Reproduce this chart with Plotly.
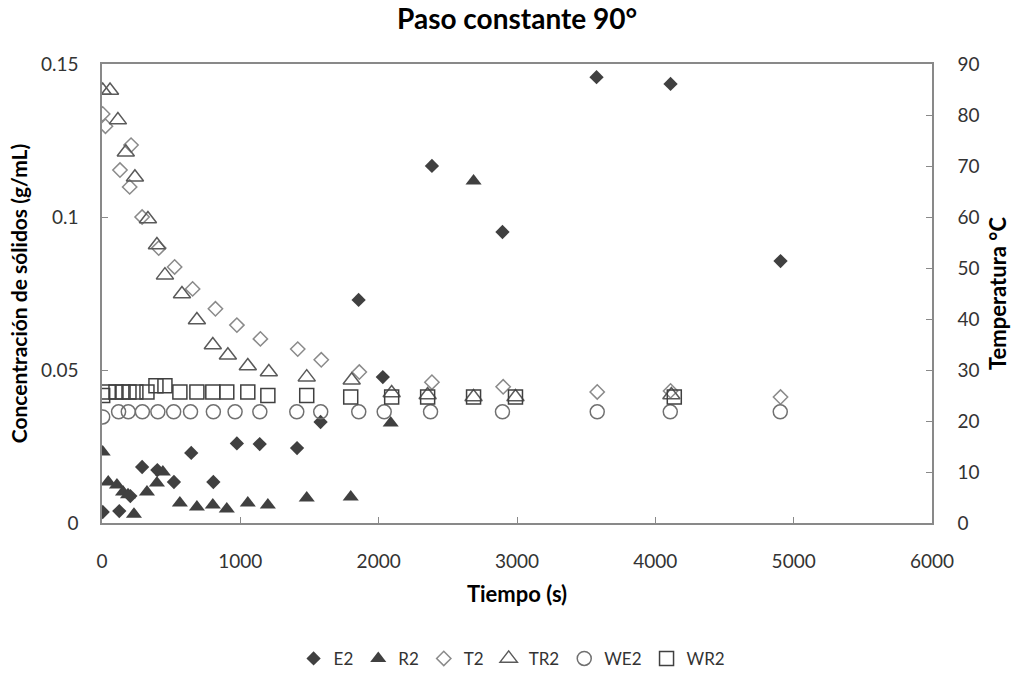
import plotly.graph_objects as go

# ---- data ----
e2_t = [5, 125, 205, 290, 400, 520, 645, 805, 975, 1140, 1410, 1580, 1855, 2030, 2385, 2895, 3575, 4110, 4905]
e2_c = [0.0036, 0.0039, 0.0088, 0.0183, 0.0173, 0.0134, 0.0229, 0.0134, 0.0260, 0.0258, 0.0245, 0.0330, 0.0729, 0.0477, 0.1167, 0.0951, 0.1457, 0.1435, 0.0856]

r2_t = [5, 45, 108, 152, 188, 231, 325, 397, 440, 563, 686, 801, 902, 1054, 1199, 1480, 1798, 2087, 2686]
r2_c = [0.0232, 0.0134, 0.0124, 0.0101, 0.0092, 0.0029, 0.0101, 0.0131, 0.0167, 0.0065, 0.0052, 0.0059, 0.0046, 0.0065, 0.0059, 0.0082, 0.0085, 0.0327, 0.1118]

t2_t = [5, 25, 130, 200, 210, 290, 410, 525, 655, 820, 975, 1145, 1415, 1585, 1860, 2385, 2900, 3580, 4110, 4905]
t2_T = [80.2, 77.8, 69.2, 65.9, 74.1, 60.0, 53.9, 50.2, 45.9, 42.0, 38.8, 36.1, 34.1, 32.0, 29.6, 27.6, 26.7, 25.7, 25.9, 24.7]

tr2_t = [5, 58, 115, 172, 238, 332, 397, 455, 578, 686, 801, 910, 1054, 1206, 1480, 1805, 2094, 2354, 2686, 2989, 4116]
tr2_T = [84.8, 84.8, 79.0, 72.7, 67.8, 59.6, 54.5, 48.6, 44.9, 39.8, 34.9, 32.9, 30.8, 29.6, 28.6, 28.0, 25.5, 25.1, 24.7, 24.7, 25.1]

we2_t = [5, 120, 190, 292, 404, 518, 640, 805, 962, 1141, 1408, 1581, 1856, 2040, 2375, 2895, 3580, 4108, 4903]
we2_T = [20.8, 21.8, 21.8, 21.8, 21.8, 21.8, 21.8, 21.8, 21.8, 21.8, 21.8, 21.8, 21.8, 21.8, 21.8, 21.8, 21.8, 21.8, 21.8]

wr2_t = [5, 45, 101, 152, 195, 245, 325, 390, 455, 563, 686, 801, 902, 1054, 1199, 1480, 1798, 2094, 2354, 2686, 2989, 4137]
wr2_T = [25.0, 25.7, 25.7, 25.7, 25.7, 25.7, 25.7, 26.9, 26.9, 25.7, 25.7, 25.7, 25.7, 25.7, 25.0, 25.0, 24.7, 24.7, 24.7, 24.7, 24.7, 24.7]

x_ticks = [0, 1000, 2000, 3000, 4000, 5000, 6000]
y_ticks = [0, 0.05, 0.1, 0.15]
y_tick_text = ["0", "0.05", "0.1", "0.15"]
y2_ticks = [0, 10, 20, 30, 40, 50, 60, 70, 80, 90]

FONT = "Lato"
AX = "#898989"
TXT = "#333333"

fig = go.Figure()
fig.add_trace(go.Scatter(x=e2_t, y=e2_c, name="E2", mode="markers",
                         marker=dict(symbol="diamond", size=11, color="#404040",
                                     line=dict(width=0))))
fig.add_trace(go.Scatter(x=r2_t, y=r2_c, name="R2", mode="markers",
                         marker=dict(symbol="triangle-up", size=14, color="#404040",
                                     line=dict(width=0))))
fig.add_trace(go.Scatter(x=t2_t, y=t2_T, name="T2", mode="markers", yaxis="y2",
                         marker=dict(symbol="diamond-open", size=11, color="#8a8a8a",
                                     line=dict(width=1.5))))
fig.add_trace(go.Scatter(x=tr2_t, y=tr2_T, name="TR2", mode="markers", yaxis="y2",
                         marker=dict(symbol="triangle-up-open", size=15, color="#5a5a5a",
                                     line=dict(width=1.5))))
fig.add_trace(go.Scatter(x=we2_t, y=we2_T, name="WE2", mode="markers", yaxis="y2",
                         marker=dict(symbol="circle-open", size=14, color="#707070",
                                     line=dict(width=1.5))))
fig.add_trace(go.Scatter(x=wr2_t, y=wr2_T, name="WR2", mode="markers", yaxis="y2",
                         marker=dict(symbol="square-open", size=14, color="#404040",
                                     line=dict(width=1.5))))

fig.update_layout(
    width=1012, height=673,
    margin=dict(l=102, r=80, t=64, b=150, autoexpand=False),
    paper_bgcolor="white", plot_bgcolor="white",
    font=dict(family=FONT, color=TXT, size=18),
    title=dict(text="<b>Paso constante 90°</b>", x=0.511, xref="container", xanchor="center",
               y=0.972, yref="container", yanchor="middle",
               font=dict(size=28, family=FONT, color="#000000")),
    showlegend=True,
    legend=dict(orientation="h", x=0.506, xref="container", xanchor="center",
                y=0.021, yref="container", yanchor="middle",
                font=dict(size=17, family=FONT, color=TXT), itemwidth=30,
                bgcolor="rgba(0,0,0,0)"),
    xaxis=dict(range=[0, 6000], tickvals=x_ticks, ticks="inside", ticklen=6, tickcolor=AX,
               showline=True, linecolor=AX, linewidth=1.5, mirror=True, showgrid=False,
               zeroline=False, tickfont=dict(size=19, color=TXT), ticklabelstandoff=20,
               automargin=False,
               title=dict(text="<b>Tiempo (s)</b>", font=dict(size=22, color="#000000"),
                          standoff=16)),
    yaxis=dict(range=[0, 0.15], tickvals=y_ticks, ticktext=y_tick_text, ticks="inside",
               ticklen=6, tickcolor=AX, showline=True, linecolor=AX, linewidth=1.5,
               showgrid=False, zeroline=False, tickfont=dict(size=19, color=TXT),
               ticklabelstandoff=18, automargin=False,
               title=dict(text="<b>Concentración de sólidos (g/mL)</b>",
                          font=dict(size=21, color="#000000"), standoff=8)),
    yaxis2=dict(range=[0, 90], tickvals=y2_ticks, ticks="inside", ticklen=6, tickcolor=AX,
                showline=True, linecolor=AX, linewidth=1.5, showgrid=False, zeroline=False,
                overlaying="y", side="right", tickfont=dict(size=19, color=TXT),
                ticklabelstandoff=20, automargin=False,
                title=dict(text="<b>Temperatura °C</b>", font=dict(size=22, color="#000000"),
                           standoff=12)),
)

fig.write_html("out.html")
